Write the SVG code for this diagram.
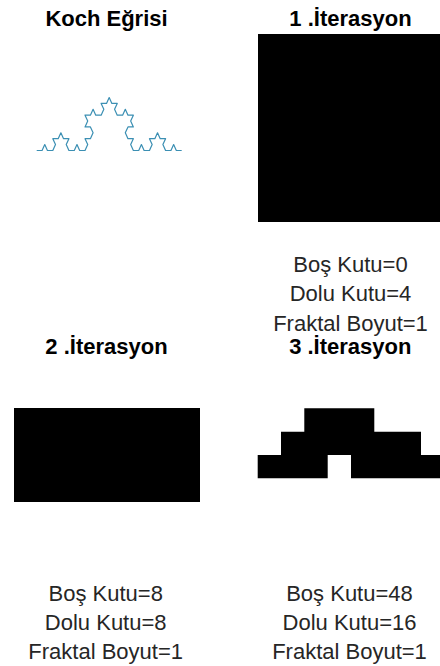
<svg xmlns="http://www.w3.org/2000/svg" width="440" height="666" viewBox="0 0 440 666">
<style>
.title{font-family:"Liberation Sans",Arial,sans-serif;font-weight:bold;font-size:22px;fill:#000;text-anchor:middle}
.info{font-family:"Liberation Sans",Arial,sans-serif;font-size:22px;fill:#262626;text-anchor:middle}
.box{fill:#000}
</style>
<rect width="440" height="666" fill="#fff"/>
<g id="koch">
<text class="title" x="106.5" y="25.5">Koch Eğrisi</text>
<path transform="translate(36.7,150.5) scale(5.37,6.8)" vector-effect="non-scaling-stroke" fill="none" stroke="#3b8fb3" stroke-width="1.2" stroke-linejoin="round" d="M0 0
l1 0 .5 -.866 .5 .866 1 0
.5 -.866 -.5 -.866 1 0 .5 -.866
.5 .866 1 0 -.5 .866 .5 .866
1 0 .5 -.866 .5 .866 1 0
.5 -.866 -.5 -.866 1 0 .5 -.866
-.5 -.866 -1 0 .5 -.866 -.5 -.866
1 0 .5 -.866 .5 .866 1 0
.5 -.866 -.5 -.866 1 0 .5 -.866
.5 .866 1 0 -.5 .866 .5 .866
1 0 .5 -.866 .5 .866 1 0
-.5 .866 .5 .866 -1 0 -.5 .866
.5 .866 1 0 -.5 .866 .5 .866
1 0 .5 -.866 .5 .866 1 0
.5 -.866 -.5 -.866 1 0 .5 -.866
.5 .866 1 0 -.5 .866 .5 .866
1 0 .5 -.866 .5 .866 1 0"/>
</g>
<g id="iter1">
<text class="title" x="350.5" y="25.5">1 .İterasyon</text>
<rect class="box" x="258" y="34" width="182" height="188"/>
<text class="info" x="350.5" y="271.7">Boş Kutu=0</text>
<text class="info" x="350.5" y="301.4">Dolu Kutu=4</text>
<text class="info" x="350.5" y="331">Fraktal Boyut=1</text>
</g>
<g id="iter2">
<text class="title" x="106.5" y="354">2 .İterasyon</text>
<rect class="box" x="14" y="408" width="186" height="94"/>
<text class="info" x="105.7" y="600.7">Boş Kutu=8</text>
<text class="info" x="105.7" y="630">Dolu Kutu=8</text>
<text class="info" x="105.7" y="659.3">Fraktal Boyut=1</text>
</g>
<g id="iter3">
<text class="title" x="350.3" y="354">3 .İterasyon</text>
<path class="box" d="M304.3 408.3H374.3V431.7H421V455H444V478.3H351V455H327.7V478.3H257.7V455H281V431.7H304.3Z"/>
<text class="info" x="349.5" y="600.7">Boş Kutu=48</text>
<text class="info" x="349.5" y="630">Dolu Kutu=16</text>
<text class="info" x="349.5" y="659.3">Fraktal Boyut=1</text>
</g>
<g id="connectors"/>
</svg>
